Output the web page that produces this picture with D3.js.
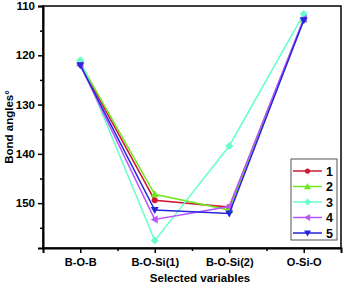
<!DOCTYPE html>
<html><head><meta charset="utf-8">
<script src="https://cdn.jsdelivr.net/npm/d3@7"></script>
<style>body{margin:0;background:#fff}svg{display:block}text{font-family:"Liberation Sans",Arial,sans-serif;font-weight:bold}</style>
</head><body>
<script>
const categories = ["B-O-B", "B-O-Si(1)", "B-O-Si(2)", "O-Si-O"];
const seriesNames = ["1", "2", "3", "4", "5"];
const s1 = [121.8, 149.4, 150.8, 112.8];
const s2 = [121.6, 148.2, 151.4, 112.7];
const s3 = [121.0, 157.6, 138.4, 111.6];
const s4 = [122.0, 153.3, 150.7, 112.6];
const s5 = [122.0, 151.4, 152.1, 112.9];
const yTicks = [110, 120, 130, 140, 150];
const yMinor = [115, 125, 135, 145, 155];
const colors = ["#cc1a33", "#6ee81e", "#66ffcc", "#bb55ff", "#2626e0"];
const symbols = ["circle", "up", "diamond", "left", "down"];
const allSeries = [s1, s2, s3, s4, s5];

const W = 346, H = 285;
const m = {l: 43, r: 5, t: 6, b: 37};
const svg = d3.select("body").append("svg").attr("width", W).attr("height", H);
const x = d3.scaleLinear().domain([0.5, 4.5]).range([m.l, W - m.r]);
const y = d3.scaleLinear().domain([110, 159.1]).range([m.t, H - m.b]);

// frame
svg.append("rect").attr("x", m.l).attr("y", m.t).attr("width", W - m.r - m.l).attr("height", H - m.b - m.t)
  .attr("fill", "none").attr("stroke", "#000").attr("stroke-width", 1.5);

// y axis
const ya = svg.append("g").attr("transform", `translate(${m.l},0)`)
  .call(d3.axisLeft(y).tickValues(yTicks).tickSize(5).tickPadding(3));
ya.select(".domain").attr("stroke-width", 2);
ya.selectAll(".tick line").attr("stroke-width", 1.5);
ya.selectAll("text").attr("font-size", 11.5).attr("fill", "#000");
const yam = svg.append("g").attr("transform", `translate(${m.l},0)`)
  .call(d3.axisLeft(y).tickValues(yMinor).tickSize(3).tickFormat(""));
yam.select(".domain").remove();
yam.selectAll(".tick line").attr("stroke-width", 1.5);

// x axis
const xa = svg.append("g").attr("transform", `translate(0,${H - m.b})`)
  .call(d3.axisBottom(x).tickValues([1, 2, 3, 4]).tickFormat((d, i) => categories[i]).tickSize(5).tickPadding(5));
xa.select(".domain").attr("stroke-width", 2);
xa.selectAll(".tick line").attr("stroke-width", 1.5);
xa.selectAll("text").attr("font-size", 11).attr("fill", "#000");
const xam = svg.append("g").attr("transform", `translate(0,${H - m.b})`)
  .call(d3.axisBottom(x).tickValues([1.5, 2.5, 3.5]).tickSize(3).tickFormat(""));
xam.select(".domain").remove();
xam.selectAll(".tick line").attr("stroke-width", 1.5);

// titles
svg.append("text").attr("x", (m.l + W - m.r) / 2 + 8).attr("y", 282).attr("text-anchor", "middle")
  .attr("font-size", 11.5).text("Selected variables");
svg.append("text").attr("transform", `translate(13,${(m.t + H - m.b) / 2}) rotate(-90)`)
  .attr("text-anchor", "middle").attr("font-size", 11.5).text("Bond angles°");

function marker(g, type, cx, cy, color, s) {
  if (type === "circle") {
    g.append("circle").attr("cx", cx).attr("cy", cy).attr("r", s * 0.75).attr("fill", color);
  } else {
    let pts;
    if (type === "up") pts = [[0, -s], [s, s * 0.75], [-s, s * 0.75]];
    if (type === "down") pts = [[0, s], [s, -s * 0.75], [-s, -s * 0.75]];
    if (type === "left") pts = [[-s, 0], [s * 0.75, -s], [s * 0.75, s]];
    if (type === "diamond") pts = [[0, -s], [s, 0], [0, s], [-s, 0]];
    g.append("polygon").attr("points", pts.map(p => [cx + p[0], cy + p[1]].join(",")).join(" ")).attr("fill", color);
  }
}

const line = d3.line().x((d, i) => x(i + 1)).y(d => y(d));
allSeries.forEach((s, k) => {
  const g = svg.append("g");
  g.append("path").attr("d", line(s)).attr("fill", "none").attr("stroke", colors[k]).attr("stroke-width", 1.5);
  s.forEach((v, i) => marker(g, symbols[k], x(i + 1), y(v), colors[k], 4));
});

// legend
const lg = svg.append("g");
lg.append("rect").attr("x", 291).attr("y", 159).attr("width", 46).attr("height", 81)
  .attr("fill", "#fff").attr("stroke", "#555").attr("stroke-width", 1);
seriesNames.forEach((n, k) => {
  const yy = 171 + k * 15.5;
  lg.append("line").attr("x1", 293).attr("x2", 322).attr("y1", yy).attr("y2", yy)
    .attr("stroke", colors[k]).attr("stroke-width", 1.5);
  marker(lg, symbols[k], 307.5, yy, colors[k], 3.5);
  lg.append("text").attr("x", 326).attr("y", yy + 4.5).attr("font-size", 12.5).text(n);
});
</script>
</body></html>
